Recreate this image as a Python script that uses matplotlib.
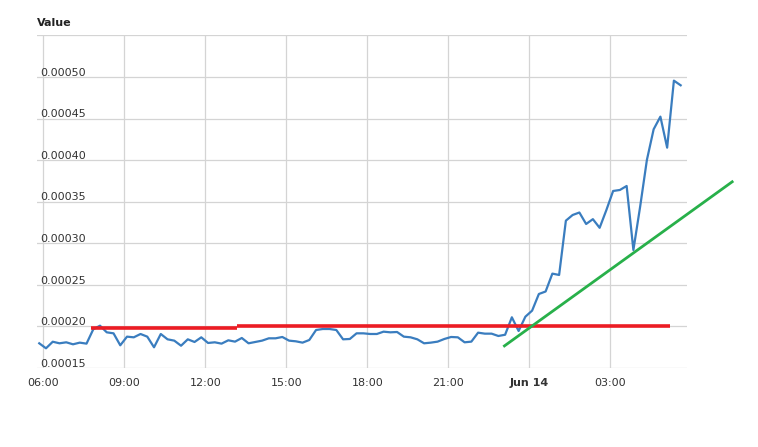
import matplotlib
matplotlib.use("Agg")
import matplotlib.pyplot as plt
import matplotlib.transforms as mtransforms
import pandas as pd

# ---- data ----
series_start = "2023-06-13 05:51"
series_freq = "15min"
values = [
    0.0001797, 0.0001737, 0.0001816, 0.0001797, 0.0001809, 0.0001785, 0.0001805, 0.0001793, 0.0001965, 0.0002009,
    0.0001929, 0.0001917, 0.0001773, 0.0001877, 0.0001869, 0.0001909, 0.0001877, 0.0001749, 0.0001909, 0.0001845,
    0.0001829, 0.0001768, 0.0001845, 0.0001813, 0.0001869, 0.0001801, 0.0001809, 0.0001793, 0.0001833, 0.0001817,
    0.0001861, 0.0001797, 0.0001813, 0.0001829,
    0.0001857, 0.0001857, 0.0001873, 0.0001829, 0.0001821, 0.0001805, 0.0001837, 0.0001957, 0.0001969, 0.0001969,
    0.0001957, 0.0001845, 0.0001849, 0.0001917, 0.0001917, 0.0001909, 0.0001909, 0.0001937, 0.0001929, 0.0001933,
    0.0001877, 0.0001869, 0.0001845, 0.0001797, 0.0001805, 0.0001817, 0.0001849, 0.0001873, 0.0001869, 0.0001809,
    0.0001817, 0.0001925, 0.0001913, 0.0001913, 0.0001885, 0.0001900,
    0.0002110, 0.0001945, 0.0002117, 0.0002190, 0.0002390, 0.0002420, 0.0002635, 0.0002619, 0.0003272, 0.0003340,
    0.0003370, 0.0003232, 0.0003290, 0.0003186, 0.0003400, 0.0003629, 0.0003641, 0.0003689, 0.0002919, 0.0003440,
    0.0004002, 0.0004371, 0.0004523, 0.0004150, 0.0004956, 0.0004900,
]

red1_times = ["2023-06-13 07:46", "2023-06-13 13:10"]
red1_values = [0.0001978, 0.0001978]
red2_times = ["2023-06-13 13:10", "2023-06-14 05:13"]
red2_values = [0.0002, 0.0002]
green_times = ["2023-06-13 23:02", "2023-06-14 07:33"]
green_values = [0.0001756, 0.0003749]

y_ticks = [0.00015, 0.00020, 0.00025, 0.00030, 0.00035, 0.00040, 0.00045, 0.00050, 0.00055]
y_labels = ["0.00015", "0.00020", "0.00025", "0.00030", "0.00035", "0.00040", "0.00045", "0.00050", ""]
x_tick_times = ["2023-06-13 06:00", "2023-06-13 09:00", "2023-06-13 12:00", "2023-06-13 15:00",
                "2023-06-13 18:00", "2023-06-13 21:00", "2023-06-14 00:00", "2023-06-14 03:00"]
x_tick_labels = ["06:00", "09:00", "12:00", "15:00", "18:00", "21:00", "Jun 14", "03:00"]
x_limits = ["2023-06-13 05:46", "2023-06-14 05:49"]

# ---- figure ----
fig = plt.figure(figsize=(7.58, 4.47), dpi=100)
ax = fig.add_axes([37 / 758, 1 - 368 / 447, (686.5 - 37) / 758, (368 - 35.4) / 447])

times = pd.date_range(series_start, periods=len(values), freq=series_freq)
ax.plot(times, values, color="#3a7dbf", lw=1.6, zorder=3, solid_joinstyle="round")
ax.plot(pd.to_datetime(red1_times), red1_values, color="#ec1c24", lw=2.6, zorder=4, solid_capstyle="butt")
ax.plot(pd.to_datetime(red2_times), red2_values, color="#ec1c24", lw=2.6, zorder=4, solid_capstyle="butt")
ax.plot(pd.to_datetime(green_times), green_values, color="#28b04a", lw=2.0, zorder=5,
        clip_on=False, solid_capstyle="butt")

ax.set_xlim(pd.to_datetime(x_limits[0]), pd.to_datetime(x_limits[1]))
ax.set_ylim(y_ticks[0], y_ticks[-1])

for s in ax.spines.values():
    s.set_visible(False)

ax.set_yticks(y_ticks)
ax.set_yticklabels([])
ax.tick_params(axis="y", length=0)
ax.set_xticks(pd.to_datetime(x_tick_times))
ax.set_xticklabels(x_tick_labels, fontsize=8, color="#333333")
ax.tick_params(axis="x", length=0, pad=7.5)
for lbl in ax.get_xticklabels():
    if lbl.get_text() == "Jun 14":
        lbl.set_fontweight("bold")

ax.grid(True, color="#d4d4d4", lw=0.9, zorder=0)
ax.set_axisbelow(True)

trans = mtransforms.offset_copy(ax.get_yaxis_transform(), fig=fig, x=2.5, y=-0.5, units="points")
for v, t in zip(y_ticks, y_labels):
    if t:
        ax.text(0, v, t, transform=trans, fontsize=8, color="#333333", ha="left", va="bottom")

fig.text(37 / 758, 1 - 23.5 / 447, "Value", fontsize=8, fontweight="bold", color="#222222",
         ha="left", va="center")

fig.savefig("out.png", dpi=100)
